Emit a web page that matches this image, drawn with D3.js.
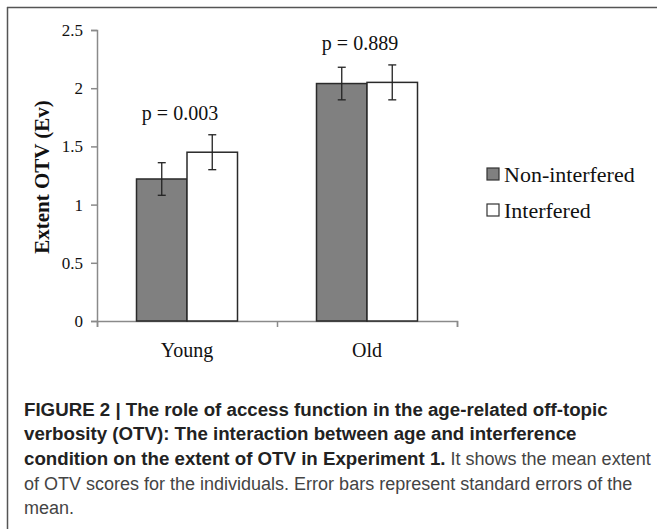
<!DOCTYPE html>
<html lang="en">
<head>
<meta charset="UTF-8">
<title>Extent OTV</title>
<script src="https://d3js.org/d3.v7.min.js"></script>
<style>
    body { margin: 0; background: #fff; }
    svg { display: block; }
    .serif { font-family: "Liberation Serif", "Times New Roman", serif; fill: #111; }
    .axis path, .axis line { stroke: #8a8a8a; stroke-width: 1.5px; }
    .caption { font-family: "Liberation Sans", Arial, sans-serif; }
</style>
</head>
<body>
<svg width="657" height="529"></svg>
<script>
// data
const groups = ["Young", "Old"];
const series = ["Non-interfered", "Interfered"];
const nonInterfered = [1.22, 2.04];
const interfered = [1.45, 2.05];
const seNonInterfered = [0.14, 0.14];
const seInterfered = [0.15, 0.15];
const pLabels = ["p = 0.003", "p = 0.889"];
const yTicks = [0, 0.5, 1, 1.5, 2, 2.5];
const captionLines = [
    [["FIGURE 2 | The role of access function in the age-related off-topic", true]],
    [["verbosity (OTV): The interaction between age and interference", true]],
    [["condition on the extent of OTV in Experiment 1.", true], [" It shows the mean extent", false]],
    [["of OTV scores for the individuals. Error bars represent standard errors of the", false]],
    [["mean.", false]]
];

const svg = d3.select("svg");
const fills = ["#808080", "#ffffff"];
const values = [nonInterfered, interfered];
const errors = [seNonInterfered, seInterfered];

// frame
svg.append("line").attr("x1", 7).attr("x2", 657).attr("y1", 7.5).attr("y2", 7.5)
    .attr("stroke", "#555").attr("stroke-width", 1.5);
svg.append("line").attr("x1", 7.5).attr("x2", 7.5).attr("y1", 7).attr("y2", 529)
    .attr("stroke", "#555").attr("stroke-width", 1.5);

const plot = {left: 97, right: 457, top: 30, bottom: 321};

const y = d3.scaleLinear().domain([0, 2.5]).range([plot.bottom, plot.top]);
const x0 = d3.scaleBand().domain(groups).range([plot.left, plot.right]);
const x1 = d3.scaleBand().domain(series).range([0, 101]);
const barOffset = (x0.bandwidth() - 101) / 2;

// y axis
const yAxis = svg.append("g")
    .attr("class", "axis")
    .attr("transform", "translate(" + plot.left + ",0)")
    .call(d3.axisLeft(y).tickValues(yTicks).tickSize(6).tickSizeOuter(6).tickPadding(8)
        .tickFormat(d3.format("")));
yAxis.selectAll("text").attr("class", "serif").style("font-size", "17px")
    .attr("fill", "#111");

// x axis: ticks at category boundaries, labels under bars
const xb = d3.scaleLinear().domain([0, groups.length]).range([plot.left, plot.right]);
svg.append("g")
    .attr("class", "axis")
    .attr("transform", "translate(0," + plot.bottom + ")")
    .call(d3.axisBottom(xb).ticks(groups.length).tickSize(6).tickSizeOuter(6).tickFormat(""));

svg.append("g").selectAll("text")
    .data(groups)
  .enter().append("text")
    .attr("class", "serif")
    .attr("x", d => x0(d) + x0.bandwidth() / 2)
    .attr("y", 357)
    .attr("text-anchor", "middle")
    .style("font-size", "20px")
    .text(d => d);

// bars
groups.forEach((g, gi) => {
    const grp = svg.append("g").attr("transform", "translate(" + (x0(g) + barOffset) + ",0)");
    series.forEach((s, si) => {
        const v = values[si][gi], e = errors[si][gi];
        grp.append("rect")
            .attr("x", x1(s))
            .attr("y", y(v))
            .attr("width", x1.bandwidth())
            .attr("height", y(0) - y(v))
            .attr("fill", fills[si])
            .attr("stroke", "#2a2a2a")
            .attr("stroke-width", 1.5);
        const cx = x1(s) + x1.bandwidth() / 2;
        grp.append("line").attr("x1", cx).attr("x2", cx)
            .attr("y1", y(v + e)).attr("y2", y(v - e))
            .attr("stroke", "#222").attr("stroke-width", 1.3);
        [v + e, v - e].forEach(t => {
            grp.append("line").attr("x1", cx - 4).attr("x2", cx + 4)
                .attr("y1", y(t)).attr("y2", y(t))
                .attr("stroke", "#222").attr("stroke-width", 1.3);
        });
    });
    // p value label above the taller error bar
    const topVal = d3.max(series, (s, si) => values[si][gi] + errors[si][gi]);
    svg.append("text")
        .attr("class", "serif")
        .attr("x", x0(g) + x0.bandwidth() / 2 - 7)
        .attr("y", y(topVal) - 15)
        .attr("text-anchor", "middle")
        .style("font-size", "20px")
        .text(pLabels[gi]);
});

// y axis title
svg.append("text")
    .attr("class", "serif")
    .attr("transform", "translate(49,177) rotate(-90)")
    .attr("text-anchor", "middle")
    .style("font-size", "21px")
    .style("font-weight", "bold")
    .text("Extent OTV (Ev)");

// legend
const legend = svg.append("g").attr("transform", "translate(487,168)");
series.forEach((s, i) => {
    const row = legend.append("g").attr("transform", "translate(0," + (i * 36) + ")");
    row.append("rect").attr("width", 12).attr("height", 12)
        .attr("fill", fills[i]).attr("stroke", "#333").attr("stroke-width", 1.2);
    row.append("text")
        .attr("class", "serif")
        .attr("x", 17)
        .attr("y", 13.5)
        .style("font-size", "22px")
        .text(s);
});

// caption
const cap = svg.append("g").attr("class", "caption");
captionLines.forEach((parts, i) => {
    const t = cap.append("text").attr("x", 24).attr("y", 415.5 + i * 24.7);
    parts.forEach(p => {
        t.append("tspan")
            .attr("font-weight", p[1] ? "bold" : "normal")
            .attr("font-size", p[1] ? "18.7px" : "18px")
            .attr("fill", p[1] ? "#222" : "#444")
            .text(p[0]);
    });
});
</script>
</body>
</html>
